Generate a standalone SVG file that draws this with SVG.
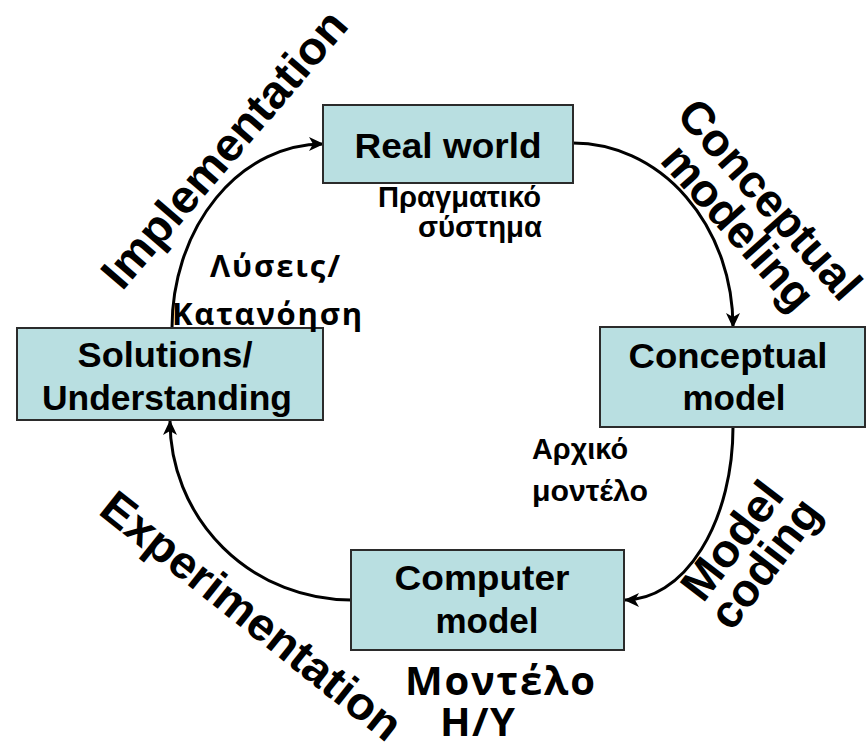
<svg xmlns="http://www.w3.org/2000/svg" width="868" height="745" viewBox="0 0 868 745">
<defs>
<marker id="arr" markerUnits="userSpaceOnUse" markerWidth="16" markerHeight="14" refX="14" refY="7" orient="auto">
<path d="M0,0 L15,7 L0,14 L4,7 z" fill="#000"/>
</marker>
<style>
.box{fill:#B9DFE1;stroke:#2b2b2b;stroke-width:2}
.bt{font-family:"Liberation Sans",Arial,sans-serif;font-weight:bold;font-size:35px;fill:#000;text-anchor:middle}
.gr{font-family:"Liberation Sans",Arial,sans-serif;font-weight:bold;font-size:29px;fill:#000}
.gc{font-family:"Open Sans","Noto Sans",sans-serif;font-weight:bold;fill:#000}
.lab{font-family:"Liberation Sans",Arial,sans-serif;font-weight:bold;font-size:46px;fill:#000}
.con{fill:none;stroke:#000;stroke-width:3;marker-end:url(#arr)}
</style>
</defs>
<rect width="868" height="745" fill="#fff"/>
<g id="connectors">
<path class="con" d="M573,143 A160,184 0 0 1 733,327"/>
<path class="con" d="M733,427 A108,173 0 0 1 625,600"/>
<path class="con" d="M351,600 A181,179 0 0 1 170,421"/>
<path class="con" d="M172,328 A151,184 0 0 1 323,144"/>
</g>
<g id="real-world">
<rect class="box" x="323" y="105" width="250" height="78"/>
<text class="bt" x="448" y="158" textLength="187" lengthAdjust="spacingAndGlyphs">Real world</text>
<text class="gr" x="541" y="207" text-anchor="end" textLength="163" lengthAdjust="spacingAndGlyphs">Πραγματικό</text>
<text class="gr" x="542" y="237" text-anchor="end" textLength="124" lengthAdjust="spacingAndGlyphs">σύστημα</text>
</g>
<g id="conceptual-model">
<rect class="box" x="600" y="327" width="265" height="100"/>
<text class="bt" x="728" y="368" textLength="199" lengthAdjust="spacingAndGlyphs">Conceptual</text>
<text class="bt" x="734" y="410">model</text>
<text class="gr" x="532" y="459" textLength="96" lengthAdjust="spacingAndGlyphs">Αρχικό</text>
<text class="gr" x="532" y="501" textLength="116" lengthAdjust="spacingAndGlyphs">μοντέλο</text>
</g>
<g id="computer-model">
<rect class="box" x="351" y="550" width="273" height="100"/>
<text class="bt" x="482" y="590" textLength="175" lengthAdjust="spacingAndGlyphs">Computer</text>
<text class="bt" x="487" y="633">model</text>
<text class="gc" x="405" y="695" font-size="40" textLength="190" lengthAdjust="spacing">Μοντέλο</text>
<text class="gc" x="440" y="736" font-size="40" textLength="75" lengthAdjust="spacing">Η/Υ</text>
</g>
<g id="solutions">
<rect class="box" x="17" y="328" width="306" height="92"/>
<text class="bt" x="165" y="367" textLength="175" lengthAdjust="spacingAndGlyphs">Solutions/</text>
<text class="bt" x="167" y="410" textLength="250" lengthAdjust="spacingAndGlyphs">Understanding</text>
<text class="gc" x="210" y="277" font-size="31" textLength="130" lengthAdjust="spacing">Λύσεις/</text>
<text class="gc" x="172" y="325" font-size="31" textLength="190" lengthAdjust="spacing">Κατανόηση</text>
</g>
<g id="labels">
<text class="lab" transform="translate(122,292) rotate(-49.3)" textLength="350" lengthAdjust="spacingAndGlyphs">Implementation</text>
<g transform="translate(675,116) rotate(48.5)">
<text class="lab" x="0" y="0">Conceptual</text>
<text class="lab" x="125" y="42" text-anchor="middle">modeling</text>
</g>
<g transform="translate(703,604) rotate(-52.5)">
<text class="lab" x="0" y="0" textLength="136" lengthAdjust="spacingAndGlyphs">Model</text>
<text class="lab" x="70" y="40" text-anchor="middle">coding</text>
</g>
<text class="lab" transform="translate(97,513) rotate(38.5)" textLength="370" lengthAdjust="spacingAndGlyphs">Experimentation</text>
</g>
</svg>
